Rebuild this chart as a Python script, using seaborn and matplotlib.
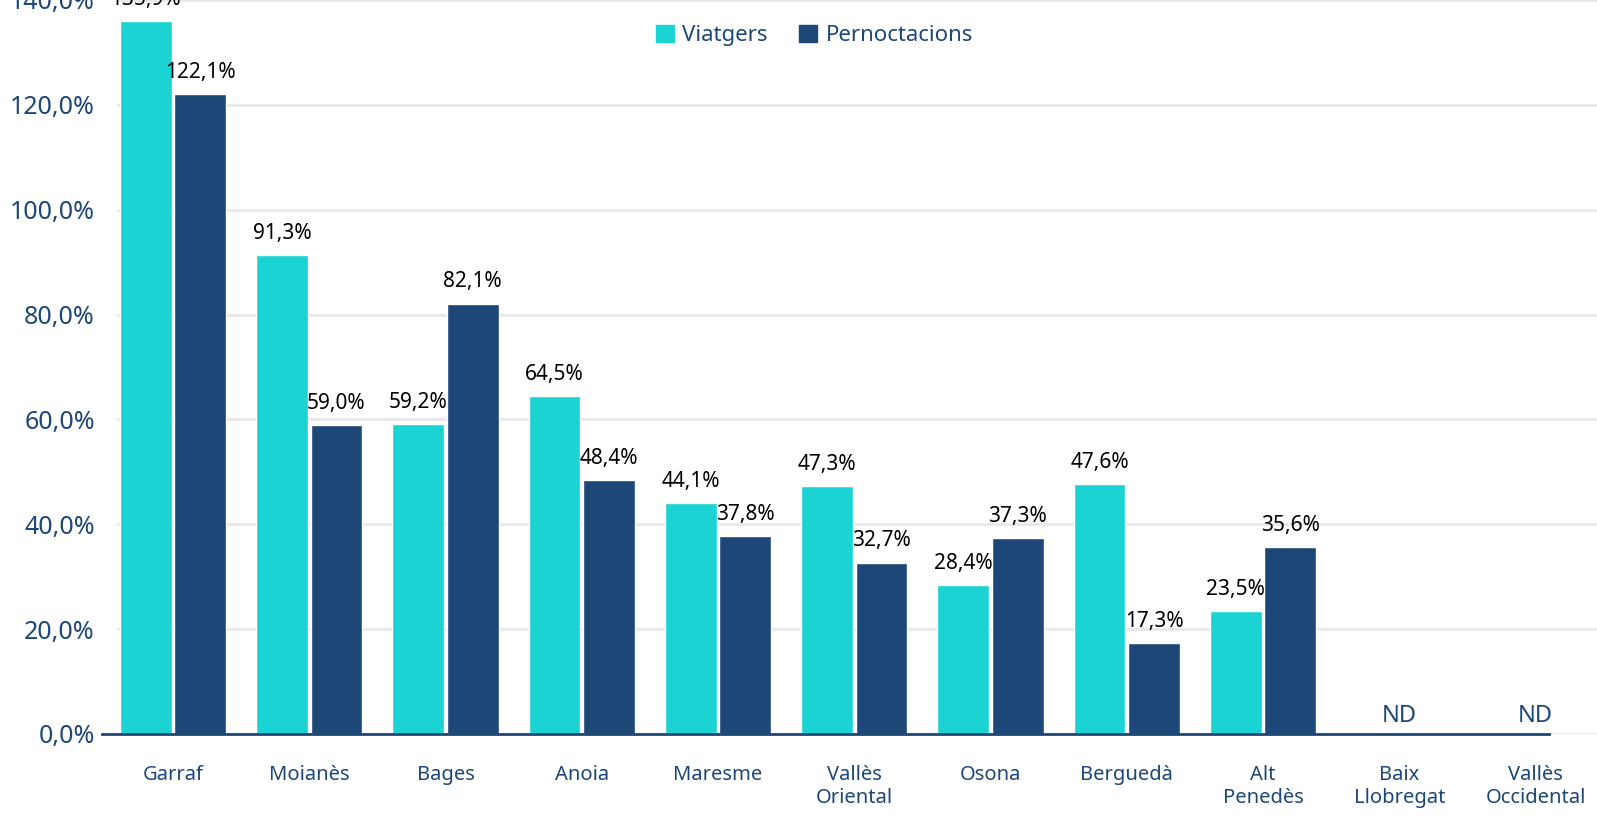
import numpy as np
import pandas as pd
import matplotlib.pyplot as plt
import seaborn as sns
from matplotlib.patches import Patch

# data (ND = no data)
comarques = ["Garraf", "Moianès", "Bages", "Anoia", "Maresme", "Vallès\nOriental",
             "Osona", "Berguedà", "Alt\nPenedès", "Baix\nLlobregat", "Vallès\nOccidental"]
viatgers = [135.9, 91.3, 59.2, 64.5, 44.1, 47.3, 28.4, 47.6, 23.5, np.nan, np.nan]
pernoctacions = [122.1, 59.0, 82.1, 48.4, 37.8, 32.7, 37.3, 17.3, 35.6, np.nan, np.nan]
series = ["Viatgers", "Pernoctacions"]
yticks = [0, 20, 40, 60, 80, 100, 120, 140]

cyan = "#1bd3d3"
navy = "#1d4776"
txt_blue = "#1d4776"

df = pd.DataFrame({
    "Comarca": comarques * 2,
    "Serie": [series[0]] * len(comarques) + [series[1]] * len(comarques),
    "Valor": viatgers + pernoctacions,
})

sns.set_style("white")
plt.rcParams["font.family"] = ["Noto Sans", "DejaVu Sans"]

fig = plt.figure(figsize=(15.97, 8.17), dpi=100)
ax = fig.add_axes([0.0733, 0.1016, 0.9267, 0.8984])

sns.barplot(data=df, x="Comarca", y="Valor", hue="Serie", order=comarques,
            hue_order=series, palette=[cyan, navy], width=0.8, gap=0.05,
            errorbar=None, saturation=1, ax=ax, legend=False)

# value labels with comma decimals
for cont in ax.containers:
    ax.bar_label(cont, fmt=lambda v: f"{v:.1f}%".replace(".", ","), padding=8,
                 fontsize=15, color="black")

# ND markers for categories without data
for i, (v, p) in enumerate(zip(viatgers, pernoctacions)):
    if np.isnan(v) and np.isnan(p):
        ax.text(i, 1.2, "ND", ha="center", va="bottom", fontsize=17, color=txt_blue)

ax.set_ylim(0, 140)
ax.set_xlim(-0.41, 10.45)
ax.set_yticks(yticks)
ax.set_yticklabels([f"{t:.1f}%".replace(".", ",") for t in yticks])
ax.yaxis.grid(True, color="#e8e8e8", linewidth=2)
ax.set_axisbelow(True)
ax.tick_params(axis="y", length=0, labelsize=18, labelcolor=txt_blue, pad=16)
ax.tick_params(axis="x", length=0, labelsize=14.5, labelcolor=txt_blue, pad=22)
ax.set_xlabel("")
ax.set_ylabel("")

for s in ["top", "right", "left"]:
    ax.spines[s].set_visible(False)
ax.spines["bottom"].set_color(navy)
ax.spines["bottom"].set_linewidth(2)
ax.spines["bottom"].set_bounds(-0.52, 10.1)
ax.spines["bottom"].set_clip_on(False)

handles = [Patch(color=cyan), Patch(color=navy)]
fig.legend(handles, series, loc="center", bbox_to_anchor=(0.51, 0.957), ncol=2,
           frameon=False, fontsize=16, labelcolor=txt_blue, handlelength=0.8,
           handleheight=0.8, handletextpad=0.4, columnspacing=1.4)

fig.savefig("out.png", dpi=100)
